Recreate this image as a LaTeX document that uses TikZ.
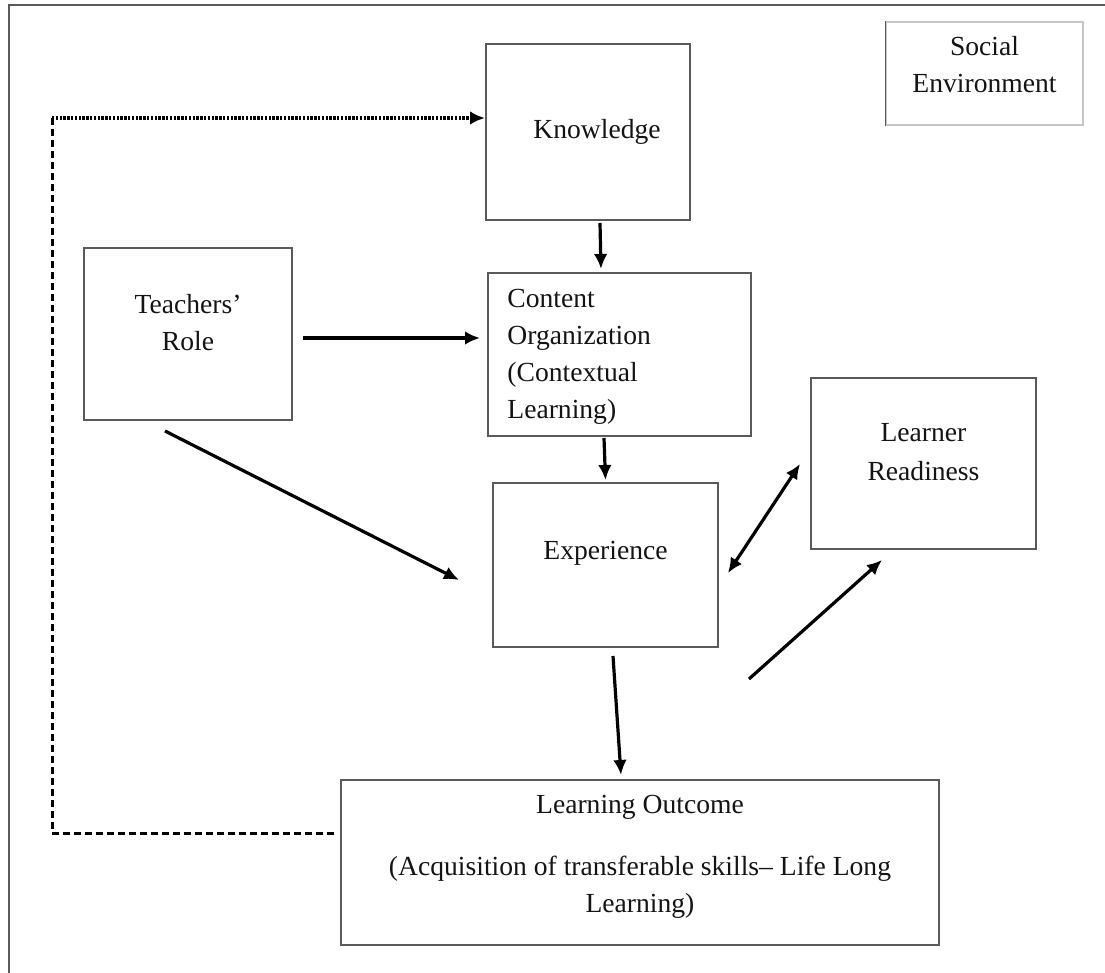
\documentclass[tikz,border=0pt]{standalone}
\usepackage{fontspec}
\setmainfont{Liberation Serif}
\usetikzlibrary{arrows.meta,calc}
\definecolor{boxgray}{HTML}{5A5A5A}
\definecolor{txt}{HTML}{141414}
\begin{document}
\begin{tikzpicture}[x=0.5pt,y=-0.5pt,
  box/.style={draw=boxgray,line width=1pt,inner sep=0pt},
  lbl/.style={font=\fontsize{13.8}{18.5}\selectfont,align=center,inner sep=0pt,text=txt},
  arr/.style={line width=1.6pt,-{Latex[length=7.5pt,width=6.8pt]}},
  dblarr/.style={line width=1.6pt,{Latex[length=7.5pt,width=6.8pt]}-{Latex[length=7.5pt,width=6.8pt]}},
  dashline/.style={line width=1.5pt,dash pattern=on 3.5pt off 2pt},
  dotline/.style={line width=1.6pt,dash pattern=on 1.2pt off 0.7pt,-{Latex[length=7.5pt,width=6.8pt]}}]
\useasboundingbox (0,0) rectangle (1105,973);
% outer frame
\draw[boxgray,line width=1pt] (9,973) -- (9,5) -- (1105,5);

% boxes
\node[box,minimum width=102pt,minimum height=88pt] (know) at (588,132) {};
\node[box,minimum width=131.5pt,minimum height=81.5pt] (content) at (619.5,354.5) {};
\node[box,minimum width=112.5pt,minimum height=82pt] (exp) at (605.5,565) {};
\node[box,minimum width=104pt,minimum height=86pt] (teach) at (188,334) {};
\node[box,minimum width=112.5pt,minimum height=85.5pt] (learner) at (923.5,463.5) {};
\node[draw=gray!45,line width=0.6pt,inner sep=0pt,minimum width=98.5pt,minimum height=51.5pt] (social) at (984.5,73.5) {};
\draw[boxgray,line width=0.8pt] (social.north west) -- (social.south west);
\node[box,minimum width=299pt,minimum height=82.5pt] (outcome) at (640,862.5) {};

% labels
\node[lbl] (knowT) at (597,132) {Knowledge};
\node[lbl,align=left,anchor=west] (contentT) at (507,356.5) {Content\\Organization\\(Contextual\\Learning)};
\node[lbl] (expT) at (605.5,553) {Experience};
\node[lbl] (teachT) at (188,322.5) {Teachers’\\Role};
\node[lbl,font=\fontsize{13.8}{19.5}\selectfont] (learnerT) at (923.5,452.5) {Learner\\Readiness};
\node[lbl] (socialT) at (984.5,64.5) {Social\\Environment};
\node[lbl] (outT1) at (640,807) {Learning Outcome};
\node[lbl] (outT2) at (640,887.5) {(Acquisition of transferable skills– Life Long\\Learning)};

% connectors
\coordinate (corner) at (52,118);
\draw[dashline] ($(outcome.west)+(-6,-29.5)$) -| (corner);
\draw[dotline] (corner) -- ($(know.west)+(0,-14)$);
\draw[arr] ($(know.south)+(12,2)$) -- ($(content.north)+(-18.5,-3)$);
\draw[arr] ($(teach.east)+(10,4)$) -- ($(content.west)+(-7,-16.5)$);
\draw[arr] ($(content.south)+(-15.5,1)$) -- ($(exp.north)+(0,-2)$);
\draw[arr] ($(teach.south)+(-23,10)$) -- ($(exp.west)+(-33,15)$);
\draw[dblarr] ($(exp.east)+(9,8)$) -- ($(learner.west)+(-10,0.5)$);
\draw[arr] ($(exp.south east)+(30,31)$) -- ($(learner.south)+(-41.5,10)$);
\draw[arr] ($(exp.south)+(7.5,8)$) -- ($(outcome.north)+(-19,-4)$);
\end{tikzpicture}
\end{document}
